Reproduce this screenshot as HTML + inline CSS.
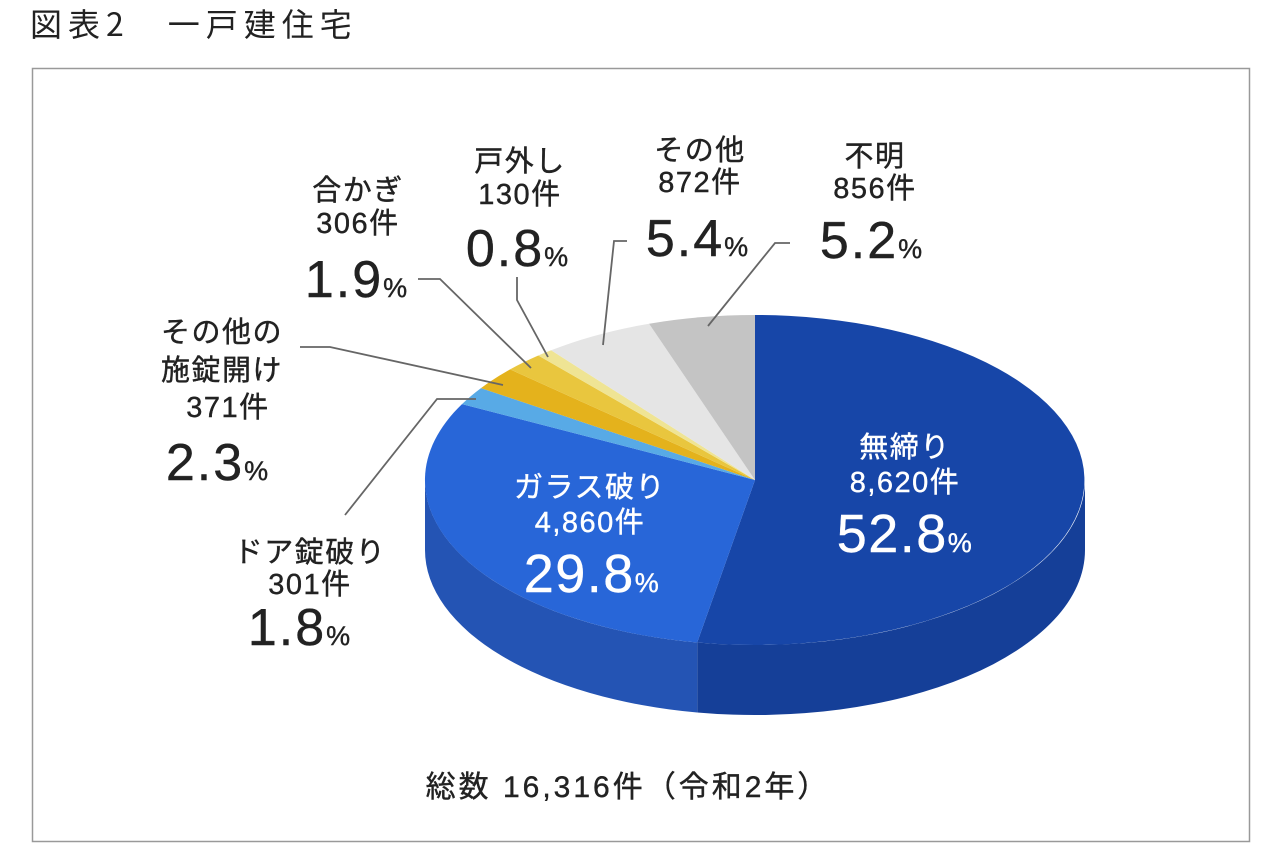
<!DOCTYPE html>
<html><head><meta charset="utf-8"><style>
html,body{margin:0;padding:0;background:#fff;}
svg{display:block;font-family:"Liberation Sans","Noto Sans CJK JP",sans-serif;}
</style></head><body>
<svg width="1280" height="852" viewBox="0 0 1280 852" xmlns="http://www.w3.org/2000/svg">
<text x="30" y="36" font-size="32" fill="#222" letter-spacing="6" font-family="Noto Sans CJK JP, sans-serif">図表2　一戸建住宅</text>
<rect x="32.5" y="68.5" width="1217" height="773" fill="none" stroke="#999" stroke-width="1.5"/>
<!-- sides -->
<path d="M1085,480 A330,165 0 0 1 697.2,642.5 L697.2,712.5 A330,165 0 0 0 1085,550 Z" fill="#153f98"/>
<path d="M697.2,642.5 A330,165 0 0 1 425,480 L425,550 A330,165 0 0 0 697.2,712.5 Z" fill="#2454b4"/>
<!-- top -->
<g stroke="none">
<path d="M755,480 L755,315 A330,165 0 1 1 697.2,642.5 Z" fill="#1746a8"/>
<path d="M755,480 L697.2,642.5 A330,165 0 0 1 462,404.1 Z" fill="#2866d8"/>
<path d="M755,480 L462,404.1 A330,165 0 0 1 481,388.1 Z" fill="#58aae6"/>
<path d="M755,480 L481,388.1 A330,165 0 0 1 510.1,369.4 Z" fill="#e4b21c"/>
<path d="M755,480 L510.1,369.4 A330,165 0 0 1 538.3,355.5 Z" fill="#e9c63e"/>
<path d="M755,480 L538.3,355.5 A330,165 0 0 1 551.1,350.3 Z" fill="#efe494"/>
<path d="M755,480 L551.1,350.3 A330,165 0 0 1 649.1,323.7 Z" fill="#e5e5e5"/>
<path d="M755,480 L649.1,323.7 A330,165 0 0 1 755,315 Z" fill="#c4c4c4"/>
</g>
<!-- leader lines -->
<g stroke="#666" stroke-width="1.8" fill="none">
<polyline points="790,243 775,243 708,326"/>
<polyline points="627,241 614,241 603,345"/>
<polyline points="517,277 517,300 548,357"/>
<polyline points="418,279 440,279 531,368"/>
<polyline points="300,347 330,347 503,385"/>
<polyline points="345,515 437,399 476,399"/>
</g>
<g font-size="29" fill="#222" text-anchor="middle" letter-spacing="1.5" stroke="#222" stroke-width="0.4">
<text x="875" y="166">不明</text><text x="875" y="198">856件</text>
<text x="700" y="160">その他</text><text x="700" y="192">872件</text>
<text x="520" y="171">戸外し</text><text x="520" y="204">130件</text>
<text x="358" y="200">合かぎ</text><text x="358" y="233">306件</text>
<text x="222" y="342">その他の</text><text x="222" y="380">施錠開け</text><text x="228" y="417">371件</text>
<text x="310" y="562">ドア錠破り</text><text x="310" y="594">301件</text>
</g>
<g font-size="52" fill="#222" text-anchor="middle" letter-spacing="2" stroke="#222" stroke-width="0.4">
<text x="872" y="258">5.2<tspan font-size="27">%</tspan></text>
<text x="698" y="256">5.4<tspan font-size="27">%</tspan></text>
<text x="518" y="266">0.8<tspan font-size="27">%</tspan></text>
<text x="357" y="297">1.9<tspan font-size="27">%</tspan></text>
<text x="218" y="480">2.3<tspan font-size="27">%</tspan></text>
<text x="300" y="645">1.8<tspan font-size="27">%</tspan></text>
</g>
<g fill="#fff" text-anchor="middle" letter-spacing="1.5" stroke="#fff" stroke-width="0.4">
<text x="590" y="497" font-size="29">ガラス破り</text>
<text x="590" y="532" font-size="29">4,860件</text>
<text x="592" y="592" font-size="54">29.8<tspan font-size="27">%</tspan></text>
<text x="905" y="457" font-size="29">無締り</text>
<text x="905" y="492" font-size="29">8,620件</text>
<text x="905" y="552" font-size="54">52.8<tspan font-size="27">%</tspan></text>
</g>
<text x="628" y="797" font-size="30" fill="#222" text-anchor="middle" letter-spacing="3" stroke="#222" stroke-width="0.4">総数 16,316件（令和2年）</text>
</svg>
</body></html>
